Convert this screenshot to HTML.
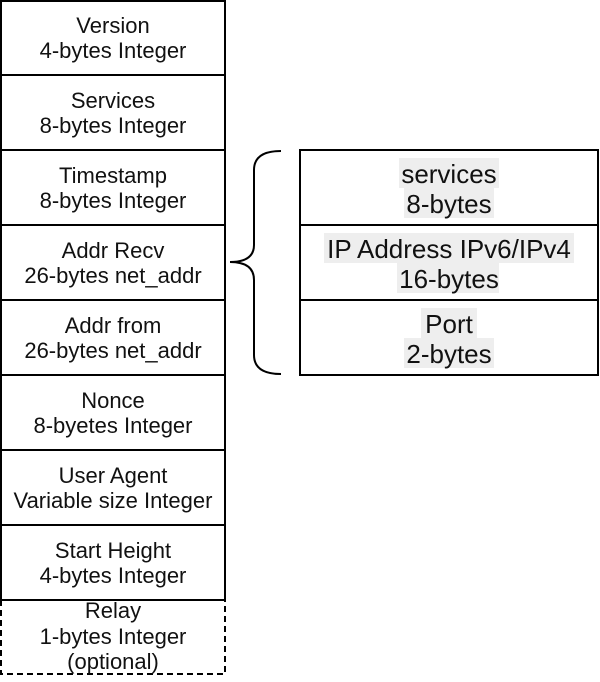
<!DOCTYPE html>
<html><head><style>html,body{margin:0;padding:0;background:#fff;}</style></head>
<body>
<svg width="600" height="677" xmlns="http://www.w3.org/2000/svg" font-family="Liberation Sans, sans-serif">
<rect width="600" height="677" fill="#fff"/>
<g fill="none" stroke="#000" stroke-width="2">
<rect x="1" y="1" width="224" height="599"/>
<line x1="1" y1="75" x2="225" y2="75"/><line x1="1" y1="150" x2="225" y2="150"/>
<line x1="1" y1="225" x2="225" y2="225"/><line x1="1" y1="300" x2="225" y2="300"/>
<line x1="1" y1="375" x2="225" y2="375"/><line x1="1" y1="450" x2="225" y2="450"/>
<line x1="1" y1="525" x2="225" y2="525"/>
<rect x="1" y="600" width="224" height="74" stroke-dasharray="6,4"/>
<rect x="300" y="150" width="298" height="225"/>
<line x1="300" y1="225" x2="598" y2="225"/><line x1="300" y1="300" x2="598" y2="300"/>
<path d="M281 151 Q254 151 254 170 L254 245 Q254 262 230 262 Q254 262 254 280 L254 355 Q254 374 281 374"/>
</g>
<g fill="#eeeeee">
<rect x="399" y="158" width="100" height="30"/><rect x="404" y="188" width="90" height="30"/>
<rect x="324" y="233" width="250" height="30"/><rect x="397" y="263" width="102" height="30"/>
<rect x="421" y="308" width="56" height="30"/><rect x="404" y="338" width="90" height="30"/>
</g>
<g font-size="22" text-anchor="middle" fill="#111">
<text x="113" y="33">Version</text><text x="113" y="58">4-bytes Integer</text>
<text x="113" y="108">Services</text><text x="113" y="133">8-bytes Integer</text>
<text x="113" y="183">Timestamp</text><text x="113" y="208">8-bytes Integer</text>
<text x="113" y="258">Addr Recv</text><text x="113" y="283">26-bytes net_addr</text>
<text x="113" y="333">Addr from</text><text x="113" y="358">26-bytes net_addr</text>
<text x="113" y="408">Nonce</text><text x="113" y="433">8-byetes Integer</text>
<text x="113" y="483">User Agent</text><text x="113" y="508">Variable size Integer</text>
<text x="113" y="558">Start Height</text><text x="113" y="583">4-bytes Integer</text>
<text x="113" y="618">Relay</text><text x="113" y="644">1-bytes Integer</text><text x="113" y="669">(optional)</text>
</g>
<g font-size="26" text-anchor="middle" fill="#111">
<text x="449" y="183">services</text><text x="449" y="213">8-bytes</text>
<text x="449" y="258">IP Address IPv6/IPv4</text><text x="449" y="288">16-bytes</text>
<text x="449" y="333">Port</text><text x="449" y="363">2-bytes</text>
</g>
</svg>
</body></html>
